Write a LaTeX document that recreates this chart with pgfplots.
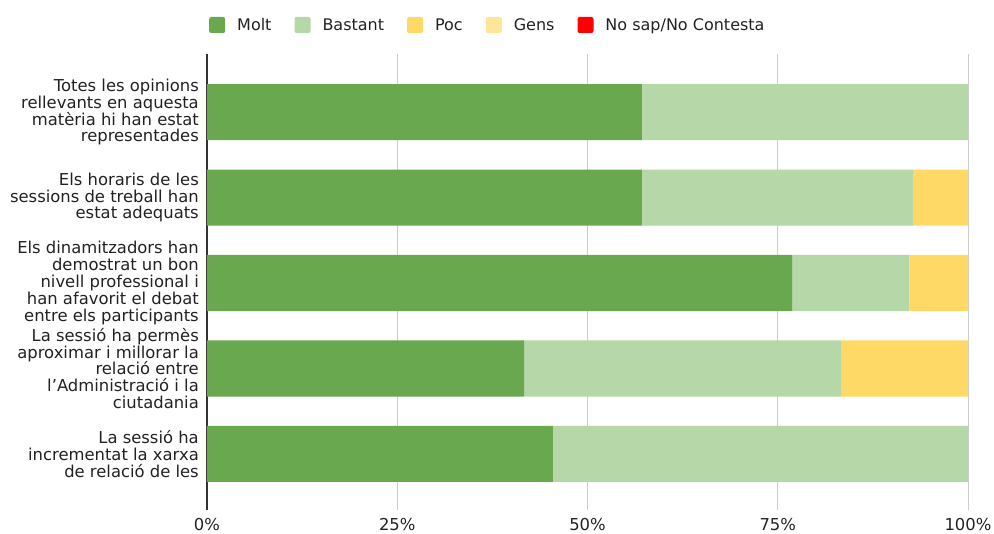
\documentclass[border=0pt]{standalone}
\usepackage{fontspec}
\setmainfont{DejaVu Sans}
\usepackage{pgfplots}
\pgfplotsset{compat=1.18}
\definecolor{molt}{HTML}{6AA84F}
\definecolor{bastant}{HTML}{B6D7A8}
\definecolor{poc}{HTML}{FFD966}
\definecolor{gens}{HTML}{FFE599}
\definecolor{nsnc}{HTML}{FF0000}
\definecolor{txt}{HTML}{222222}
\definecolor{gridc}{HTML}{CCCCCC}
\definecolor{axisc}{HTML}{333333}
\pgfplotsset{sqlegend/.style={legend image code/.code={\fill[##1, draw=none, rounded corners=2pt] (0pt,-8pt) rectangle (16pt,8pt);}}}
\begin{document}
\begin{tikzpicture}
\begin{axis}[
  scale only axis, width=761pt, height=456pt,
  xbar stacked, bar width=0.656,
  xmin=0, xmax=100, ymin=-0.68, ymax=4.656, y dir=reverse,
  ytick={0,1,2,3,4},
  yticklabels={
    {Totes les opinions\\rellevants en aquesta\\matèria hi han estat\\representades},
    {Els horaris de les\\sessions de treball han\\estat adequats},
    {Els dinamitzadors han\\demostrat un bon\\nivell professional i\\han afavorit el debat\\entre els participants},
    {La sessió ha permès\\aproximar i millorar la\\relació entre\\l’Administració i la\\ciutadania},
    {La sessió ha\\incrementat la xarxa\\de relació de les}},
  xtick={25,50,75,100}, xticklabels={25\%,50\%,75\%,100\%},
  extra x ticks={0}, extra x tick labels={0\%},
  extra x tick style={grid=major, major grid style={draw=axisc, line width=1.2pt}},
  xmajorgrids, grid style={draw=gridc, line width=1pt},
  major tick length=0pt,
  axis line style={draw=none},
  tick label style={font=\fontsize{16.4}{16.8}\selectfont, text=txt, inner sep=0pt},
  xticklabel style={yshift=-8.5pt},
  yticklabel style={align=right, xshift=-8pt},
  legend columns=-1,
  legend style={at={(axis description cs:0,1)}, anchor=west, xshift=2pt, yshift=29pt,
    draw=none, fill=none, inner sep=0pt, font=\fontsize{16}{16}\selectfont, text=txt,
    nodes={inner sep=0pt},
    /tikz/every odd column/.append style={column sep=12pt},
    /tikz/every even column/.append style={column sep=23pt}},
]
\addplot[fill=molt, draw=none, sqlegend] coordinates {(57.14,0) (57.14,1) (76.92,2) (41.67,3) (45.45,4)};
\addplot[fill=bastant, draw=none, sqlegend] coordinates {(42.86,0) (35.71,1) (15.38,2) (41.67,3) (54.55,4)};
\addplot[fill=poc, draw=none, sqlegend] coordinates {(0,0) (7.15,1) (7.70,2) (16.66,3) (0,4)};
\addplot[fill=gens, draw=none, sqlegend] coordinates {(0,0) (0,1) (0,2) (0,3) (0,4)};
\addplot[fill=nsnc, draw=none, sqlegend] coordinates {(0,0) (0,1) (0,2) (0,3) (0,4)};
\legend{Molt, Bastant, Poc, Gens, No sap/No Contesta}
\end{axis}
\pgfresetboundingbox
\path[use as bounding box] (-207pt,-24pt) rectangle (787pt,510pt);
\end{tikzpicture}
\end{document}
